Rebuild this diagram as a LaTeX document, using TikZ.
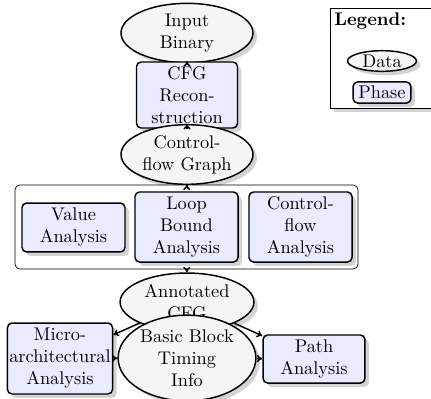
\documentclass[tikz,border=0pt]{standalone}
\usetikzlibrary{shapes.geometric,shadows,arrows.meta}
\tikzset{
  datanode/.style={ellipse,draw,thick,fill=gray!8,drop shadow={opacity=0.35},align=center,inner sep=1pt},
  phasenode/.style={rectangle,rounded corners=2.5pt,draw,thick,fill=blue!8,drop shadow={opacity=0.35},align=center,inner sep=1pt},
  groupbox/.style={rectangle,rounded corners=2.5pt,draw,fill=white,inner sep=0pt},
  flow/.style={-{To[length=3pt,width=4pt]},thick}
}
\begin{document}
\begin{tikzpicture}[x=0.5455pt,y=-0.5455pt]
\useasboundingbox (0,0) rectangle (431,398);
% legend
\node[draw,fill=white,drop shadow={opacity=0.35},minimum width=55pt,minimum height=54.5pt,anchor=north west,inner sep=0pt] (legend) at (330,8) {};
\node[anchor=west,inner sep=0pt] (legtitle) at (334,21) {\textbf{Legend:}};
\node[datanode,minimum width=37.6pt,minimum height=10.4pt,inner sep=0.5pt] (legdata) at (382,61) {Data};
\node[phasenode,minimum width=31.6pt,minimum height=11.5pt,inner sep=1pt] (legphase) at (382,92.5) {Phase};
% main flow
\node[datanode,minimum width=72pt,minimum height=31.6pt] (inbin) at (187,33) {Input\\Binary};
\node[phasenode,minimum width=55.1pt,minimum height=36pt] (cfgrec) at (187,95) {CFG\\Recon-\\struction};
\node[datanode,minimum width=72pt,minimum height=31.1pt] (cfg) at (187,154.5) {Control-\\flow Graph};
\node[groupbox,minimum width=187pt,minimum height=45.8pt] (group) at (186.5,227) {};
\node[phasenode,minimum width=56.2pt,minimum height=26.7pt] (va) at (73.5,227.5) {Value\\Analysis};
\node[phasenode,minimum width=56.2pt,minimum height=38.2pt] (lb) at (186.5,227) {Loop\\Bound\\Analysis};
\node[phasenode,minimum width=56.2pt,minimum height=38.2pt] (cf) at (300.5,227) {Control-\\flow\\Analysis};
\node[datanode,minimum width=73pt,minimum height=31.6pt] (acfg) at (187,302) {Annotated\\CFG};
\node[phasenode,minimum width=55.6pt,minimum height=38.7pt] (micro) at (60,358.5) {Micro-\\architectural\\Analysis};
\node[phasenode,minimum width=55.6pt,minimum height=26.2pt] (path) at (314,359) {Path\\Analysis};
\node[datanode,minimum width=73pt,minimum height=44.7pt] (bbt) at (187,358) {Basic Block\\Timing\\Info};
% connectors
\draw[flow] (inbin) -- (cfgrec);
\draw[flow] (cfgrec) -- (cfg);
\draw[flow] (cfg) -- (group);
\draw[flow] (group) -- (acfg);
\draw[flow] (acfg) -- (micro);
\draw[flow] (acfg) -- (path);
\draw[flow] (micro) -- (bbt);
\draw[flow] (bbt) -- (path);
\end{tikzpicture}
\end{document}
